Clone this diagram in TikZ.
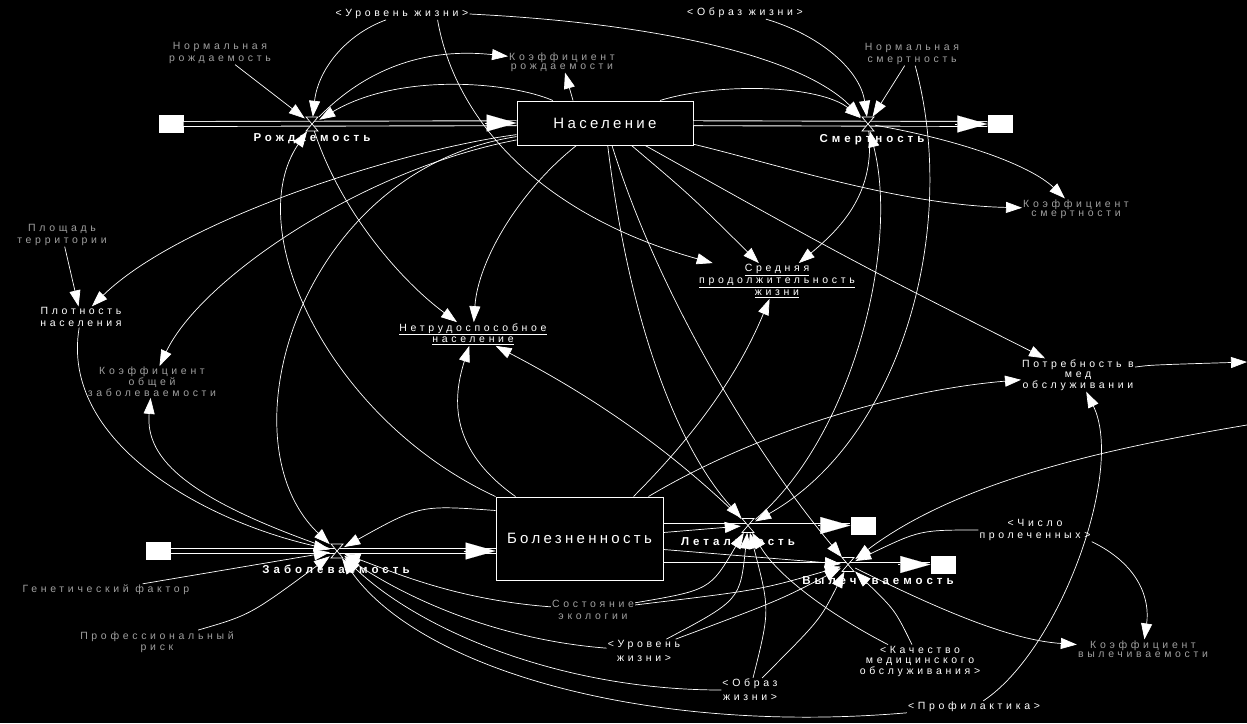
\documentclass[tikz,border=0pt]{standalone}
\usepackage{fontspec}
\setmainfont{Liberation Sans}
\newfontfamily\lblfont[LetterSpace=35]{Liberation Sans}
\newfontfamily\stockfont[LetterSpace=22]{Liberation Sans}
\usetikzlibrary{arrows.meta,positioning}
\newcommand{\drawvalve}[1]{%
  \draw[white,fill=black,line width=0.7pt] ([shift={(-6,-7)}]#1.center) -- ([shift={(6,-7)}]#1.center)
    -- ([shift={(-6,7)}]#1.center) -- ([shift={(6,7)}]#1.center) -- cycle;}
\begin{document}
\begin{tikzpicture}[x=1pt,y=-1pt,
  stock/.style={draw=white,line width=1pt,fill=black,text=white,inner sep=0pt,
    font=\stockfont\fontsize{15}{17}\selectfont},
  sinkbox/.style={fill=white,minimum width=25pt,minimum height=18pt,inner sep=0pt},
  valve/.style={minimum size=14pt,inner sep=0pt},
  pipe/.style={draw=white,double=black,double distance=4pt,line width=0.9pt},
  flowtip/.style={white,line width=0.1pt,-{Triangle[length=30pt,width=17pt]}},
  link/.style={white,line width=0.7pt,-{Triangle[length=16pt,width=11pt]}},
  auxlabel/.style={text=white,align=center,inner sep=1pt,
    font=\lblfont\fontsize{10.5}{11.5}\selectfont},
  auxfaint/.style={auxlabel,text=gray!75},
  flowlabel/.style={text=white,inner sep=1pt,font=\lblfont\bfseries\fontsize{11.5}{13}\selectfont}]
\fill[black] (0,0) rectangle (1247,723);
\useasboundingbox (0,0) rectangle (1247,723);

% stocks, sources and sinks
\node[stock,minimum width=176pt,minimum height=44pt] (nas) at (605,123) {Население};
\node[stock,minimum width=167pt,minimum height=83pt] (bol) at (579.5,538.5) {Болезненность};
\node[sinkbox] (src1) at (171,124) {};
\node[sinkbox] (snk1) at (1000,124) {};
\node[sinkbox] (src2) at (158,551) {};
\node[sinkbox] (snk2) at (863,525.5) {};
\node[sinkbox] (snk3) at (943,564.5) {};
\coordinate (bolin) at (src2 -| bol.west);
\coordinate (bolout1) at (snk2 -| bol.east);
\coordinate (bolout2) at (snk3 -| bol.east);

% valves
\node[valve] (rozh) at (312,124) {};
\node[valve] (smer) at (868,124) {};
\node[valve] (zab) at (337,551) {};
\node[valve] (let) at (748,525.5) {};
\node[valve] (vyl) at (848,564.5) {};

% variables
\node[auxlabel] (urov) at (402,14) {<Уровень жизни>};
\node[auxlabel] (obraz) at (745,13) {<Образ жизни>};
\node[auxfaint] (normrozh) at (220,53) {Нормальная\\рождаемость};
\node[auxfaint,font=\lblfont\fontsize{10.5}{9}\selectfont] (koefrozh) at (562,62) {Коэффициент\\рождаемости};
\node[auxfaint] (normsmer) at (912,54) {Нормальная\\смертность};
\node[auxfaint,font=\lblfont\fontsize{10.5}{9}\selectfont] (koefsmer) at (1076,209) {Коэффициент\\смертности};
\node[auxfaint] (plosh) at (62,235) {Площадь\\территории};
\node[auxlabel] (plot) at (81,317) {Плотность\\населения};
\node[auxfaint,font=\lblfont\fontsize{10.5}{9.5}\selectfont] (koefzab) at (152,382) {Коэффициент\\общей\\заболеваемости};
\node[auxlabel] (netrud) at (473,334) {\underline{Нетрудоспособное}\\\underline{население}};
\node[auxlabel,font=\lblfont\fontsize{10.5}{12}\selectfont] (sredn) at (777,281) {\underline{Средняя}\\\underline{продолжительность}\\\underline{жизни}};
\node[auxlabel,font=\lblfont\fontsize{10.5}{10.5}\selectfont] (potreb) at (1078,375) {Потребность в\\мед\\обслуживании};
\node[auxlabel] (chislo) at (1035,530) {<Число\\пролеченных>};
\node[auxfaint,font=\lblfont\fontsize{10.5}{9}\selectfont] (koefvyl) at (1143,649) {Коэффициент\\вылечиваемости};
\node[auxlabel,font=\lblfont\fontsize{10.5}{10.5}\selectfont] (kach) at (920,661) {<Качество\\медицинского\\обслуживания>};
\node[auxlabel] (profil) at (974,707) {<Профилактика>};
\node[auxlabel,font=\lblfont\fontsize{10.5}{14}\selectfont] (obraz2) at (750,690) {<Образ\\жизни>};
\node[auxlabel,font=\lblfont\fontsize{10.5}{14}\selectfont] (urov2) at (644,651) {<Уровень\\жизни>};
\node[auxfaint] (ekol) at (593,610) {Состояние\\экологии};
\node[auxfaint] (genet) at (106,590) {Генетический фактор};
\node[auxfaint] (prof) at (157,642) {Профессиональный\\риск};
\coordinate (edgeR1) at (1247,362);
\coordinate (edgeR2) at (1247,425);

% pipes
\draw[pipe] (src1) -- (nas);
\draw[flowtip] ([xshift=-32pt]nas.west) -- (nas.west);
\draw[pipe] (nas) -- (snk1);
\draw[flowtip] ([xshift=-32pt]snk1.west) -- (snk1.west);
\draw[pipe] (src2) -- (bolin);
\draw[flowtip] ([xshift=-32pt]bolin) -- (bolin);
\draw[pipe] (bolout1) -- (snk2);
\draw[flowtip] ([xshift=-32pt]snk2.west) -- (snk2.west);
\draw[pipe] (bolout2) -- (snk3);
\draw[flowtip] ([xshift=-32pt]snk3.west) -- (snk3.west);
\drawvalve{rozh}
\drawvalve{smer}
\drawvalve{zab}
\drawvalve{let}
\drawvalve{vyl}
\node[flowlabel] (rozhl) at (312,139) {Рождаемость};
\node[flowlabel] (smerl) at (872,140) {Смертность};
\node[flowlabel] (zabl) at (336,569) {Заболеваемость};
\node[flowlabel] (letl) at (738,542) {Летальность};
\node[flowlabel] (vyll) at (878,581) {Вылечиваемость};

% links, upper part
\draw[link] (urov) .. controls (345,35) and (318,70) .. (rozh);
\draw[link] (urov.east) .. controls (690,25) and (810,65) .. (smer);
\draw[link] ([xshift=-32pt]urov.south east) .. controls (455,120) and (540,215) .. (sredn);
\draw[link] (normrozh) -- (rozh);
\draw[link] (nas) .. controls (510,82) and (400,72) .. (rozh);
\draw[link] (rozh) .. controls (370,65) and (430,48) .. (koefrozh);
\draw[link] ([xshift=-32pt]nas.north) -- (koefrozh);
\draw[link] ([xshift=55pt]nas.north) .. controls (720,82) and (820,85) .. (smer);
\draw[link] (obraz) .. controls (820,35) and (860,70) .. (smer);
\draw[link] (normsmer) -- (smer);
\draw[link] (smer) .. controls (960,140) and (1030,165) .. (koefsmer);
\draw[link] (nas) .. controls (780,165) and (900,205) .. (koefsmer);
\draw[link] (nas) .. controls (690,195) .. (sredn);
\draw[link] (smer) .. controls (875,190) and (845,225) .. (sredn);
\draw[link] (nas) .. controls (520,190) and (478,260) .. (netrud);
\draw[link] (rozh) .. controls (340,210) and (400,280) .. (netrud);
\draw[link] (nas) .. controls (400,150) and (180,220) .. (plot);
\draw[link] (plosh) -- (plot);
\draw[link] (nas) .. controls (360,170) and (200,280) .. (koefzab);
\draw[link] (nas) .. controls (850,260) .. (potreb);

% links across the middle
\draw[link] (bol.north west) .. controls (330,420) and (240,230) .. (rozh);
\draw[link] (nas) .. controls (300,170) and (220,440) .. (zab);
\draw[link] (nas) .. controls (630,330) and (680,450) .. (let);
\draw[link] (nas) .. controls (660,300) and (760,460) .. (vyl);
\draw[link] (let) .. controls (850,440) and (900,250) .. (smer);
\draw[link] (normsmer) .. controls (960,230) and (900,440) .. (let);

% links, lower part
\draw[link] (plot) .. controls (60,440) and (200,520) .. (zab);
\draw[link] (zab) .. controls (190,500) and (145,460) .. (koefzab);
\draw[link] ([yshift=28pt]bol.west) .. controls (420,505) .. (zab);
\draw[link] (genet) -- (zab);
\draw[link] (prof) .. controls (250,615) .. (zab);
\draw[link] (ekol) .. controls (460,600) and (400,575) .. (zab);
\draw[link] (urov2) .. controls (500,640) and (410,600) .. (zab);
\draw[link] (obraz2) .. controls (560,690) and (420,630) .. (zab);
\draw[link] (profil) .. controls (650,735) and (420,670) .. (zab);
\draw[link] ([xshift=20pt]bol.north west) .. controls (450,450) and (452,400) .. (netrud);
\draw[link] ([xshift=-30pt]bol.north east) .. controls (700,430) and (740,370) .. (sredn);
\draw[link] ([xshift=-15pt]bol.north east) .. controls (760,430) and (900,390) .. (potreb);
\draw[link] ([yshift=6pt]bol.east) -- (let);
\draw[link] ([yshift=-11pt]bol.east) -- (vyl);
\draw[link] (let) .. controls (660,440) and (580,390) .. (netrud);
\draw[link] (kach) .. controls (840,620) and (780,580) .. (let);
\draw[link] (kach) .. controls (895,610) .. (vyl);
\draw[link] (ekol) .. controls (710,590) .. (let);
\draw[link] (ekol) .. controls (760,590) .. (vyl);
\draw[link] (urov2) .. controls (740,600) .. (let);
\draw[link] (urov2) .. controls (780,600) .. (vyl);
\draw[link] (obraz2) .. controls (770,610) .. (let);
\draw[link] (obraz2) .. controls (820,620) .. (vyl);
\draw[link] (chislo) .. controls (920,530) .. (vyl);
\draw[link] (edgeR2) .. controls (1110,448) and (960,480) .. (vyl);
\draw[link] (vyl) .. controls (940,610) and (1010,640) .. (koefvyl);
\draw[link] (chislo.south east) .. controls (1140,565) and (1150,600) .. (koefvyl);
\draw[link] (profil) .. controls (1060,650) and (1125,470) .. (potreb);
\draw[link] (potreb) .. controls (1150,365) .. (edgeR1);
\end{tikzpicture}
\end{document}
